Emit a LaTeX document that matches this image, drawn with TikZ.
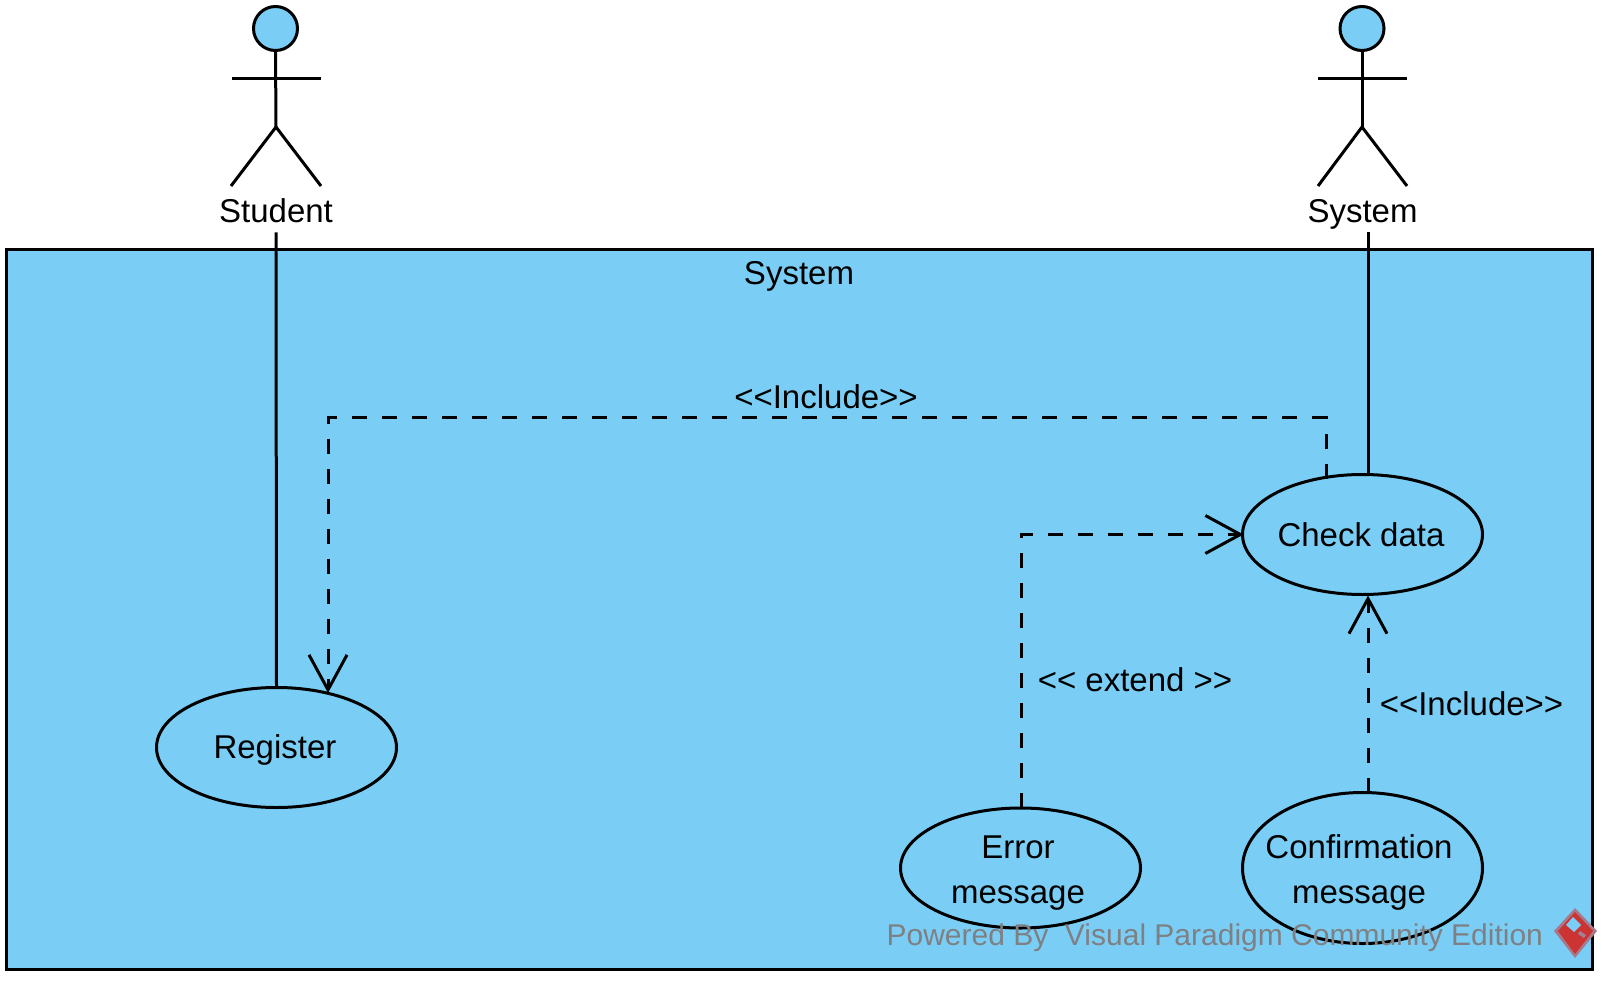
\documentclass[tikz,border=0pt]{standalone}
\usepackage{fontspec}
\setmainfont{Liberation Sans}
\usetikzlibrary{arrows.meta,shapes.geometric}
\definecolor{ucfill}{HTML}{7ACEF5}
\definecolor{wm}{HTML}{7F8083}
\definecolor{logored}{HTML}{CC3333}
\tikzset{
  x=1pt,y=-1pt,
  every node/.style={font=\fontsize{33}{45}\selectfont,inner sep=0pt,outer sep=0pt},
  lbl/.style={anchor=base},
  ln/.style={line width=3pt,black},
  usecase/.style={ln,ellipse,draw,fill=ucfill,inner sep=0pt,outer sep=0pt},
  dep/.style={ln,dash pattern=on 15pt off 15pt,-{Straight Barb[length=35pt,width=38pt,line width=3pt]}},
}
\begin{document}
\begin{tikzpicture}
\useasboundingbox (0,0) rectangle (1611,984);
\fill[white] (0,0) rectangle (1611,984);
% actors
\node[ln,circle,draw,fill=ucfill,minimum size=44pt] (h1) at (275.5,28.5) {};
\draw[ln] (h1.south) -- (276,127) coordinate (b1);
\draw[ln] (231.5,78.5) -- (321,78.5);
\draw[ln] (231,186) -- (b1) -- (321,186);
\node[lbl] (student) at (276,222.5) {Student};
\node[ln,circle,draw,fill=ucfill,minimum size=44pt] (h2) at (1362,28.5) {};
\draw[ln] (h2.south) -- (1362,127) coordinate (b2);
\draw[ln] (1318,78.5) -- (1407,78.5);
\draw[ln] (1318,186) -- (b2) -- (1407,186);
\node[lbl] (sysactor) at (1362.5,222.5) {System};
% frame
\node[ln,draw,fill=ucfill,minimum width=1586pt,minimum height=719pt] (frame) at (799.5,609.5) {};
\node[lbl] (frametitle) at (799,285) {System};
% use cases
\node[usecase,minimum width=240pt,minimum height=120pt] (register) at (276.5,747.5) {};
\node[lbl] (registertext) at (275,758.5) {Register};
\node[usecase,minimum width=240pt,minimum height=120pt] (check) at (1362.5,534.5) {};
\node[lbl] (checktext) at (1361,546) {Check data};
\node[usecase,minimum width=240pt,minimum height=120pt] (error) at (1020.5,868) {};
\node[lbl] (errortexta) at (1018,858.5) {Error};
\node[lbl] (errortextb) at (1018,903.5) {message};
\node[usecase,minimum width=240pt,minimum height=151pt] (confirm) at (1362.5,868) {};
\node[lbl] (confirmtexta) at (1359,858.5) {Confirmation};
\node[lbl] (confirmtextb) at (1359,903.5) {message};
% connectors
\draw[ln] (student.south) ++(0,9.5) -- (register.north);
\draw[ln] (1368,232) coordinate (s2) -- (check.north -| s2);
\draw[dep] (check.north -| 1326,0) ++(0,4) -- ++(0,-61) -| ([xshift=51.5pt,yshift=-5.5pt]register.north);
\draw[dep] (error.north) ++(0.5,0) |- ([xshift=1pt]check.west);
\draw[dep] (confirm.north -| 1368,0) -- (1368,595.5);
\node[lbl] (inca) at (826,408.5) {<{}<Include>{}>};
\node[lbl] (ext) at (1135,691) {<{}< extend >{}>};
\node[lbl] (incb) at (1471.5,715) {<{}<Include>{}>};
% watermark
\node[text=wm,anchor=base east,font=\fontsize{30}{36}\selectfont] (wmark) at (1543,945.5) {Powered By\ \ Visual Paradigm Community Edition};
\fill[logored!55!ucfill] (1575,908) -- (1597,931) -- (1575,958) -- (1554,931) -- cycle;
\fill[logored] (1575,912) -- (1593,931) -- (1575,954) -- (1558,931) -- cycle;
\fill[ucfill] (1573,917) -- (1581,925) -- (1574,932) -- (1566,925) -- cycle;
\fill[ucfill!50!logored] (1580,931) -- (1586,935) -- (1584,938) -- (1578,934) -- cycle;
\end{tikzpicture}
\end{document}
